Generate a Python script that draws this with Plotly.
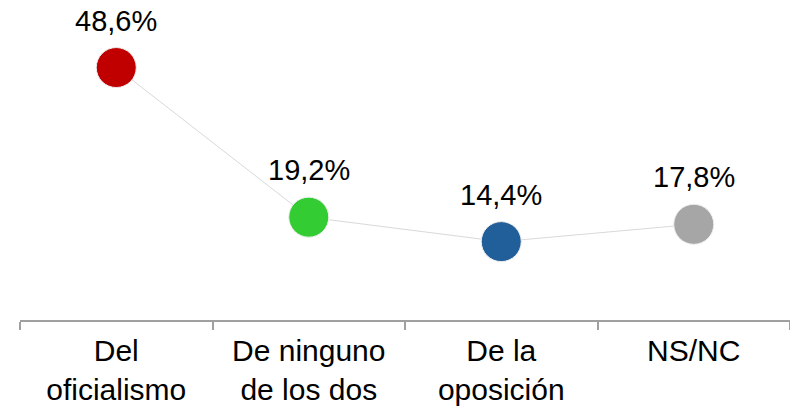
import plotly.graph_objects as go

categories = ["Del<br>oficialismo", "De ninguno<br>de los dos", "De la<br>oposición", "NS/NC"]
values = [48.6, 19.2, 14.4, 17.8]
value_labels = ["48,6%", "19,2%", "14,4%", "17,8%"]
colors = ["#C00000", "#33CC33", "#215F9A", "#A6A6A6"]

FONT = "Liberation Sans, Arial"

fig = go.Figure()
fig.add_trace(go.Scatter(
    x=categories, y=values, mode="lines+markers",
    line=dict(color="#D9D9D9", width=1),
    marker=dict(size=40, color=colors, line=dict(color="#EEEEEE", width=1)),
    hoverinfo="skip", showlegend=False, cliponaxis=False,
))
for c, v, t in zip(categories, values, value_labels):
    fig.add_annotation(x=c, y=v, text=t, showarrow=False, yshift=47,
                       font=dict(family=FONT, size=29, color="#000000"))

fig.update_layout(
    width=790, height=400,
    margin=dict(l=12, r=8, t=0, b=88),
    paper_bgcolor="white", plot_bgcolor="white",
    font=dict(family=FONT, size=30, color="#000000"),
    xaxis=dict(type="category", range=[-0.5, 3.5], showline=True, linecolor="#A0A0A0",
               linewidth=1.5, ticks="outside", tickson="boundaries", ticklen=8,
               tickcolor="#A0A0A0", tickwidth=1.5, showgrid=False, zeroline=False,
               ticklabelstandoff=3,
               tickfont=dict(size=30, family=FONT, color="#000000")),
    yaxis=dict(range=[-1, 60.3], visible=False, showgrid=False, zeroline=False),
)
fig.write_html("out.html", config={"displayModeBar": False})
